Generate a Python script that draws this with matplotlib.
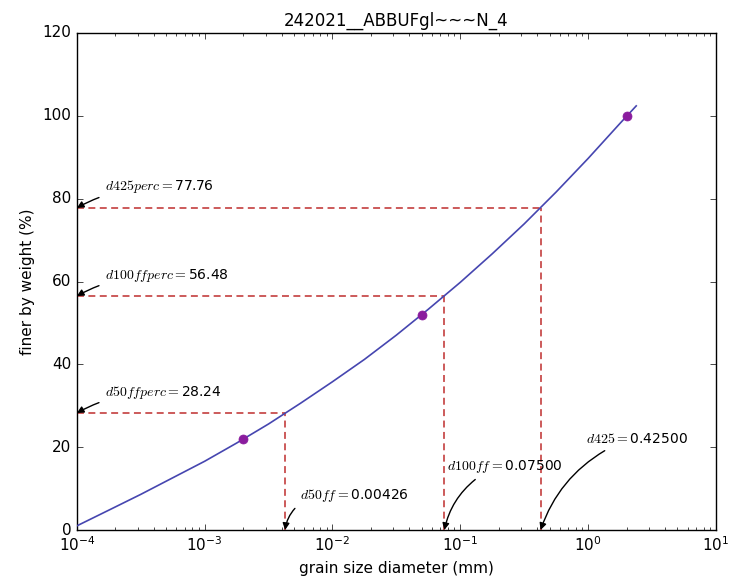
import matplotlib
matplotlib.use("Agg")
import matplotlib.pyplot as plt

plt.style.use("classic")
plt.rcParams["mathtext.fontset"] = "cm"

# sieve data points
sieve_mm = [0.002, 0.05, 2.0]
sieve_pct = [22.0, 52.0, 100.0]

# fitted gradation curve
curve_mm = [0.0001, 0.000178, 0.000316, 0.000562, 0.001, 0.00178, 0.00316,
            0.00562, 0.01, 0.0178, 0.0316, 0.0562, 0.1, 0.178, 0.316, 0.562,
            1.0, 1.78, 2.38]
curve_pct = [1.0, 4.8, 8.6, 12.6, 16.6, 21.0, 25.6, 30.6, 35.8, 41.2, 47.05,
             53.3, 59.8, 66.7, 73.9, 81.6, 89.7, 98.2, 102.4]

# characteristic diameters and their passing percentages
d_names = ["d50ff", "d100ff", "d425"]
d_sizes = [0.00426, 0.07500, 0.42500]
d_percs = [28.24, 56.48, 77.76]

title = "242021__ABBUFgl~~~N_4"
xmin, xmax = 1e-4, 10.0
ymin, ymax = 0, 120

fig = plt.figure(figsize=(7.32, 5.85), dpi=100, facecolor="white")
ax = fig.add_axes([0.105, 0.094, 0.873, 0.8496])
ax.set_xscale("log")
ax.set_xlim(xmin, xmax)
ax.set_ylim(ymin, ymax)

ax.plot(curve_mm, curve_pct, color="#4646b0", lw=1.2, zorder=3)
ax.plot(sieve_mm, sieve_pct, "o", color="#8a1c9e", mec="#8a1c9e", ms=6.5, zorder=4)

dash_col = "#cc5a5a"
for name, d, p in zip(d_names, d_sizes, d_percs):
    ax.plot([xmin, d], [p, p], "--", color=dash_col, lw=1.4, dashes=(5, 3.2), zorder=2)
    ax.plot([d, d], [ymin, p], "--", color=dash_col, lw=1.4, dashes=(5, 3.2), zorder=2)

arrow = dict(arrowstyle="-|>", color="black", lw=1.0, mutation_scale=10,
             shrinkA=2, shrinkB=0)

# percentage labels on the y axis
for name, p in zip(d_names, d_percs):
    ax.annotate(r"$%sperc=$%.2f" % (name, p), xy=(xmin, p),
                xytext=(28, 21), textcoords="offset pixels",
                ha="left", va="center", fontsize=10,
                arrowprops=dict(arrow, relpos=(0.0, 0.0),
                                connectionstyle="arc3,rad=0.05"))

# diameter labels on the x axis
x_offsets = [(15, 35), (3, 64), (45, 91)]
x_relpos = [(0.0, 0.0), (0.3, 0.0), (0.27, 0.0)]
for name, d, off, rp in zip(d_names, d_sizes, x_offsets, x_relpos):
    ax.annotate(r"$%s=$%.5f" % (name, d), xy=(d, 0),
                xytext=off, textcoords="offset pixels",
                ha="left", va="center", fontsize=10,
                arrowprops=dict(arrow, relpos=rp,
                                connectionstyle="arc3,rad=0.2"))

ax.set_title(title, fontsize=12)
ax.set_xlabel("grain size diameter (mm)", fontsize=11)
ax.set_ylabel("finer by weight (%)", fontsize=11)
ax.tick_params(labelsize=11)

fig.savefig("out.png", dpi=100, facecolor="white")
